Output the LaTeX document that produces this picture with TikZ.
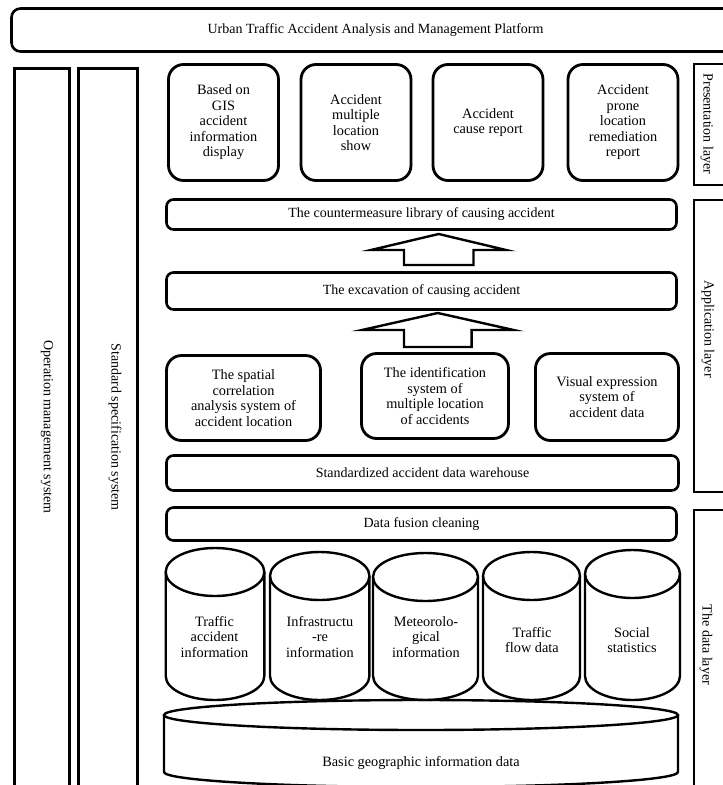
\documentclass[tikz,border=0pt]{standalone}
\usepackage{fontspec}
\setmainfont{Liberation Serif}
\usetikzlibrary{calc}
\newcommand\dbcyl[5]{%
  \pgfmathsetmacro\cylcx{(#1+#2)/2}%
  \pgfmathsetmacro\cylrx{(#2-#1)/2}%
  \draw[cylline] (\cylcx,{#3+#5}) ellipse[x radius=\cylrx pt, y radius=#5pt];
  \draw[cylline] (#1,{#3+#5}) -- (#1,{#4-#5}) arc[start angle=180,end angle=360,x radius=\cylrx pt,y radius=#5pt] -- (#2,{#3+#5});
}
\begin{document}
\begin{tikzpicture}[x=1pt,y=-1pt,font=\fontsize{14}{15.5}\selectfont,
  wbox/.style={draw,line width=2.6pt,rounded corners=7pt,align=center,inner sep=0pt},
  rbox/.style={draw,line width=2.8pt,rounded corners=15pt,align=center,inner sep=0pt,font=\fontsize{14.3}{15.5}\selectfont},
  colbox/.style={draw,line width=3pt,inner sep=0pt},
  layerbox/.style={draw,line width=2pt,inner sep=0pt,anchor=north west},
  vlabel/.style={rotate=-90,inner sep=0pt},
  cylline/.style={line width=2.4pt},
  cyltext/.style={align=center,inner sep=0pt,font=\fontsize{14.3}{15.5}\selectfont},
  blockarrow/.style={draw,line width=2.4pt,line join=miter}]
\useasboundingbox (0,0) rectangle (723,785);
\clip (0,0) rectangle (723,785);

% title
\node[wbox,rounded corners=9pt,minimum width=728pt,minimum height=43pt] (title) at (375.5,30) {Urban Traffic Accident Analysis and Management Platform};

% left columns
\node[colbox,anchor=north,minimum width=55pt,minimum height=760pt] (opscol) at (42,66.5) {};
\node[colbox,anchor=north,minimum width=59pt,minimum height=760pt] (stdcol) at (108,66.5) {};
\node[vlabel] (opslabel) at (47,427) {Operation management system};
\node[vlabel] (stdlabel) at (115,427) {Standard specification system};

% right layer boxes
\node[layerbox,minimum width=80pt,minimum height=121pt] (preslayer) at (692.5,63) {};
\node[layerbox,minimum width=80pt,minimum height=292pt] (applayer) at (692.5,199) {};
\node[layerbox,minimum width=80pt,minimum height=320pt] (datalayer) at (692.5,509) {};
\node[vlabel] (preslabel) at (707,124) {Presentation layer};
\node[vlabel] (applabel) at (708,329) {Application layer};
\node[vlabel] (datalabel) at (706,645) {The data layer};

% presentation layer
\node[rbox,minimum width=110pt,minimum height=116pt] (p1) at (223.5,122.5) {Based on\\GIS\\accident\\information\\display};
\node[rbox,minimum width=110pt,minimum height=116pt] (p2) at (356,122.5) {Accident\\multiple\\location\\show};
\node[rbox,minimum width=110pt,minimum height=116pt] (p3) at (488,122.5) {Accident\\cause report};
\node[rbox,minimum width=110pt,minimum height=116pt] (p4) at (623,122.5) {Accident\\prone\\location\\remediation\\report};

% application layer
\node[wbox,minimum width=510pt,minimum height=30pt] (cm) at (421.5,214.5) {The countermeasure library of causing accident};
\draw[blockarrow] (438.7,234) -- (506,250) -- (473.5,250) -- (473.5,265) -- (404,265) -- (404,250) -- (371,250) -- cycle;
\node[wbox,minimum width=510pt,minimum height=37pt] (exc) at (421.5,291) {The excavation of causing accident};
\draw[blockarrow] (437.8,313) -- (513.6,330) -- (471.6,330) -- (471.6,347) -- (404,347) -- (404,330) -- (362,330) -- cycle;
\node[rbox,minimum width=154pt,minimum height=85pt] (a1) at (243.5,398) {The spatial\\correlation\\analysis system of\\accident location};
\node[rbox,minimum width=147pt,minimum height=85pt] (a2) at (435,396) {The identification\\system of\\multiple location\\of accidents};
\node[rbox,minimum width=143pt,minimum height=87pt] (a3) at (607,397) {Visual expression\\system of\\accident data};
\node[wbox,minimum width=512pt,minimum height=35pt] (wh) at (422.5,473) {Standardized accident data warehouse};

% data layer
\node[wbox,minimum width=510pt,minimum height=33pt] (fusion) at (421.5,524) {Data fusion cleaning};
\dbcyl{164}{678}{700}{787}{15}
\dbcyl{165.7}{264.3}{548}{700}{24}
\dbcyl{270}{369.4}{552}{700}{24}
\dbcyl{373}{478}{553}{700}{24}
\dbcyl{483}{580}{552}{700}{24}
\dbcyl{585}{680}{550}{700}{24}
\node[cyltext] (d1) at (214.5,637) {Traffic\\accident\\information};
\node[cyltext] (d2) at (320,637) {Infrastructu\\-re\\information};
\node[cyltext] (d3) at (426,637) {Meteorolo-\\gical\\information};
\node[cyltext] (d4) at (532,640) {Traffic\\flow data};
\node[cyltext] (d5) at (632,640) {Social\\statistics};
\node[cyltext] (gis) at (421,763) {Basic geographic information data};
\end{tikzpicture}
\end{document}
